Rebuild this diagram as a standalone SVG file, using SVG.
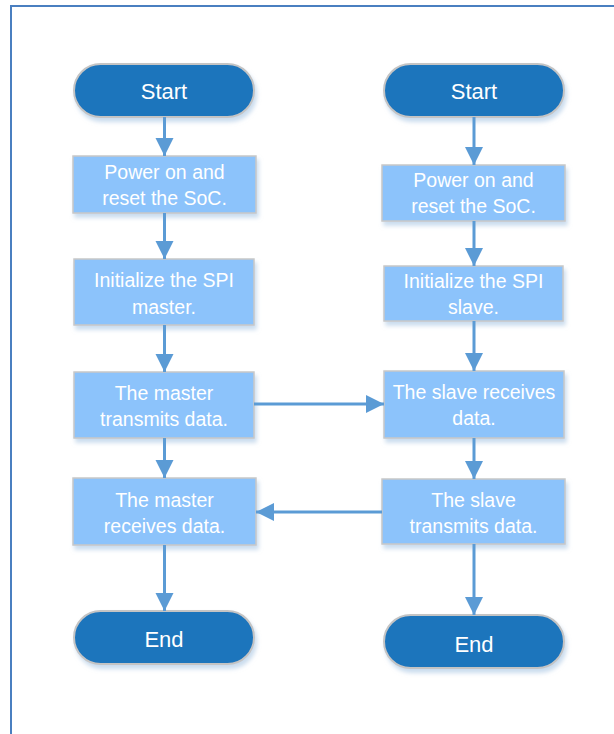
<svg xmlns="http://www.w3.org/2000/svg" width="614" height="734" viewBox="0 0 614 734">
  <defs>
    <filter id="shadow" x="-10%" y="-20%" width="130%" height="150%">
      <feDropShadow dx="2" dy="4" stdDeviation="2" flood-color="#9fbfe0" flood-opacity="0.55"/>
    </filter>
    <marker id="arrow" markerUnits="userSpaceOnUse" markerWidth="19" markerHeight="19" refX="18" refY="9" orient="auto">
      <path d="M0,0 L18,9 L0,18 Z" fill="#5b9bd5"/>
    </marker>
    <style>
      .term { fill: #1e74bc; stroke: #c4c4c4; stroke-width: 2; filter: url(#shadow); }
      .proc { fill: #8cc3fb; stroke: #c8c8c8; stroke-width: 1.5; filter: url(#shadow); }
      .termtxt { font-family: "Liberation Sans", Arial, sans-serif; font-size: 22px; fill: #ffffff; text-anchor: middle; }
      .txt { font-family: "Liberation Sans", Arial, sans-serif; font-size: 19.5px; fill: #ffffff; text-anchor: middle; }
      .conn { stroke: #5b9bd5; stroke-width: 3; fill: none; marker-end: url(#arrow); }
    </style>
  </defs>

  <rect width="614" height="734" fill="#ffffff"/>
  <!-- page frame -->
  <path d="M11,734 V6 H614" fill="none" stroke="#4a7fc0" stroke-width="2"/>

  <!-- master column -->
  <g id="start-master">
    <rect class="term" x="74" y="64" width="180" height="53" rx="26.5"/>
    <text class="termtxt" x="164" y="99">Start</text>
  </g>
  <g id="power-master">
    <rect class="proc" x="73" y="156" width="183" height="57"/>
    <text class="txt" x="164.5" y="178.5">Power on and</text>
    <text class="txt" x="164.5" y="205">reset the SoC.</text>
  </g>
  <g id="init-master">
    <rect class="proc" x="74" y="259" width="180" height="66"/>
    <text class="txt" x="164" y="287">Initialize the SPI</text>
    <text class="txt" x="164" y="313.5">master.</text>
  </g>
  <g id="tx-master">
    <rect class="proc" x="74" y="372" width="180" height="66"/>
    <text class="txt" x="164" y="399.5">The master</text>
    <text class="txt" x="164" y="426">transmits data.</text>
  </g>
  <g id="rx-master">
    <rect class="proc" x="73" y="478" width="183" height="67"/>
    <text class="txt" x="164.5" y="506.5">The master</text>
    <text class="txt" x="164.5" y="533">receives data.</text>
  </g>
  <g id="end-master">
    <rect class="term" x="74" y="611" width="180" height="53" rx="26.5"/>
    <text class="termtxt" x="164" y="646.5">End</text>
  </g>

  <!-- slave column -->
  <g id="start-slave">
    <rect class="term" x="384" y="64" width="180" height="53" rx="26.5"/>
    <text class="termtxt" x="474" y="99">Start</text>
  </g>
  <g id="power-slave">
    <rect class="proc" x="382" y="165" width="183" height="56"/>
    <text class="txt" x="473.5" y="187">Power on and</text>
    <text class="txt" x="473.5" y="213">reset the SoC.</text>
  </g>
  <g id="init-slave">
    <rect class="proc" x="384" y="266" width="179" height="55"/>
    <text class="txt" x="473.5" y="288">Initialize the SPI</text>
    <text class="txt" x="473.5" y="313.5">slave.</text>
  </g>
  <g id="rx-slave">
    <rect class="proc" x="384" y="371" width="180" height="67"/>
    <text class="txt" x="474" y="399">The slave receives</text>
    <text class="txt" x="474" y="424.5">data.</text>
  </g>
  <g id="tx-slave">
    <rect class="proc" x="382" y="479" width="183" height="65"/>
    <text class="txt" x="473.5" y="507">The slave</text>
    <text class="txt" x="473.5" y="533">transmits data.</text>
  </g>
  <g id="end-slave">
    <rect class="term" x="384" y="615" width="180" height="53" rx="26.5"/>
    <text class="termtxt" x="474" y="651.5">End</text>
  </g>

  <!-- connectors -->
  <g id="connectors">
    <line class="conn" x1="164.5" y1="117" x2="164.5" y2="156"/>
    <line class="conn" x1="164.5" y1="213" x2="164.5" y2="259"/>
    <line class="conn" x1="164.5" y1="325" x2="164.5" y2="372"/>
    <line class="conn" x1="164.5" y1="438" x2="164.5" y2="478"/>
    <line class="conn" x1="164.5" y1="545" x2="164.5" y2="611"/>

    <line class="conn" x1="474" y1="117" x2="474" y2="165"/>
    <line class="conn" x1="474" y1="221" x2="474" y2="266"/>
    <line class="conn" x1="474" y1="321" x2="474" y2="371"/>
    <line class="conn" x1="474" y1="438" x2="474" y2="479"/>
    <line class="conn" x1="474" y1="544" x2="474" y2="615"/>

    <line class="conn" x1="254" y1="404" x2="384" y2="404"/>
    <line class="conn" x1="382" y1="512" x2="256" y2="512"/>
  </g>
</svg>
